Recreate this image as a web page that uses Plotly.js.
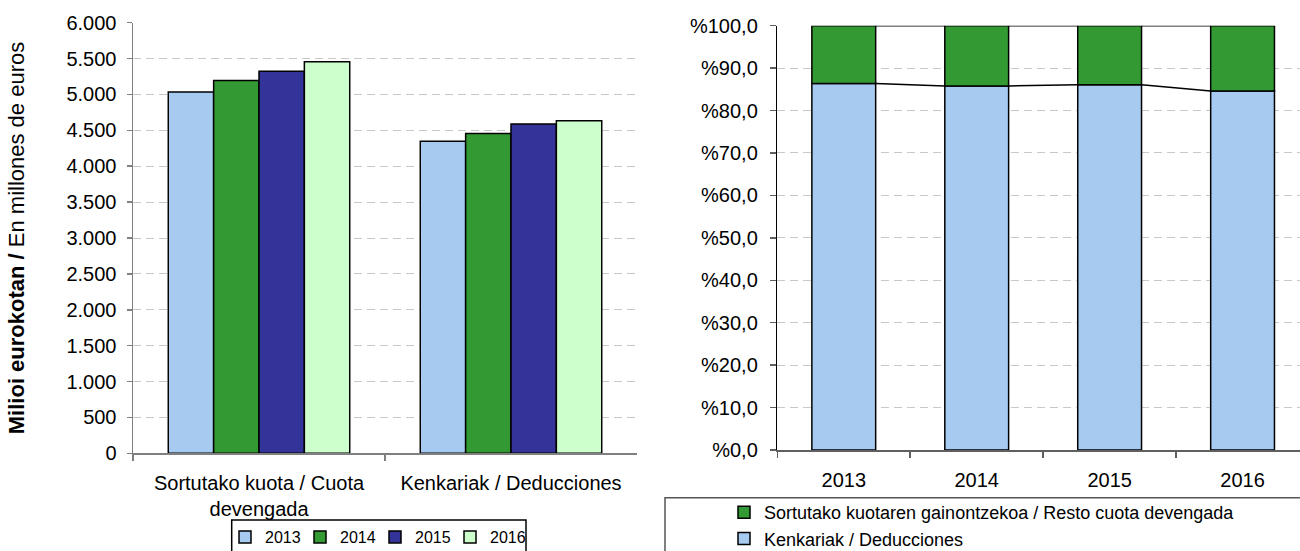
<!DOCTYPE html>
<html><head><meta charset="utf-8">
<script src="https://cdn.plot.ly/plotly-3.0.1.min.js"></script>
<style>html,body{margin:0;padding:0;background:#fff;overflow:hidden}#chart{width:1300px;height:580px}</style>
</head><body><div id="chart"></div>
<script>
// ---- data ----
const concepts = ["Sortutako kuota / Cuota<br>devengada", "Kenkariak / Deducciones"];
const years = ["2013", "2014", "2015", "2016"];
const values2013 = [5036, 4348];
const values2014 = [5193, 4455];
const values2015 = [5322, 4587];
const values2016 = [5456, 4634];
const shareDeducciones = [86.4, 85.8, 86.1, 84.6];
const shareResto = [13.6, 14.2, 13.9, 15.4];
const nameResto = "Sortutako kuotaren gainontzekoa / Resto cuota devengada";
const nameDeducciones = "Kenkariak / Deducciones";
const yTitle = "<b>Milioi eurokotan / </b>En millones de euros";

// ---- styling ----
// The figure is a little taller than the 551px window so the legend boxes run off the bottom edge as in the original.
const W = 1300, H = 580;
const px = v => v / W, py = v => 1 - v / H;
const FONT = "Liberation Sans, Arial, sans-serif";
const yearColors = ["#A6CAF0", "#339933", "#333399", "#CCFFCC"];
const colResto = "#339933", colDed = "#A6CAF0";
const outline = {color: "#000", width: 1.5};

const yearSeries = [values2013, values2014, values2015, values2016];
const barW = 0.18, groupStart = -0.36;
const traces = [];
yearSeries.forEach((vals, k) => {
  traces.push({
    type: "bar", x: concepts, y: vals, name: years[k],
    xaxis: "x", yaxis: "y", legend: "legend",
    width: barW, offset: groupStart + k * barW,
    marker: {color: yearColors[k], line: outline},
    hoverinfo: "x+y+name"
  });
});

const bw2 = 0.48;
traces.push({
  type: "bar", x: years, y: shareDeducciones, name: nameDeducciones,
  xaxis: "x2", yaxis: "y2", legend: "legend2", width: bw2,
  marker: {color: colDed, line: outline}
});
traces.push({
  type: "bar", x: years, y: shareResto, base: shareDeducciones, name: nameResto,
  xaxis: "x2", yaxis: "y2", legend: "legend2", width: bw2,
  marker: {color: colResto, line: outline}
});

// series lines connecting bar edges
const tops = shareDeducciones.map((v, i) => v + shareResto[i]);
function seriesLine(levels) {
  const xs = [], ys = [];
  for (let i = 0; i < levels.length - 1; i++) {
    xs.push(i + bw2 / 2, i + 1 - bw2 / 2, null);
    ys.push(levels[i], levels[i + 1], null);
  }
  return {type: "scatter", mode: "lines", x: xs, y: ys, xaxis: "x3", yaxis: "y2",
          line: {color: "#000", width: 1.5}, showlegend: false, hoverinfo: "skip"};
}
traces.push(seriesLine(shareDeducciones));
traces.push(seriesLine(tops));

const grid = {gridcolor: "#C8C8C8", griddash: "8px,5px", gridwidth: 1};
const rightEnd = 3.432;

const layout = {
  width: W, height: H,
  margin: {l: 0, r: 0, t: 0, b: 0},
  paper_bgcolor: "#fff", plot_bgcolor: "#fff",
  font: {family: FONT, size: 20, color: "#000"},
  separators: ",.",
  barmode: "overlay",
  showlegend: true,
  xaxis: {
    domain: [px(133), px(637)], anchor: "y", type: "category",
    range: [-0.5, 1.5], tickson: "boundaries", ticks: "outside", ticklen: 6,
    tickcolor: "#808080", tickwidth: 1.5, showline: true, linecolor: "#808080", linewidth: 1.5,
    showgrid: false, ticklabelstandoff: 11, tickfont: {size: 20}, fixedrange: true
  },
  yaxis: Object.assign({
    domain: [py(453.3), py(22.7)], anchor: "x", range: [0, 6000], dtick: 500,
    tickformat: ",d", ticks: "outside", ticklen: 5, tickcolor: "#808080", tickwidth: 1.5,
    showline: true, linecolor: "#808080", linewidth: 1.5, zeroline: false,
    ticklabelstandoff: 6, tickfont: {size: 20},
    title: {text: yTitle, font: {size: 22}, standoff: 35}, fixedrange: true
  }, grid),
  xaxis2: {
    domain: [px(777.3), 1], anchor: "y2", type: "category",
    range: [-0.5, rightEnd], tickson: "boundaries", ticks: "outside", ticklen: 6,
    tickcolor: "#606060", tickwidth: 1.5, showline: true, linecolor: "#606060", linewidth: 1.5,
    showgrid: false, ticklabelstandoff: 11, tickfont: {size: 20}, fixedrange: true
  },
  xaxis3: {overlaying: "x2", anchor: "y2", range: [-0.5, rightEnd], visible: false, fixedrange: true},
  yaxis2: Object.assign({
    domain: [py(450), py(25.7)], anchor: "x2", range: [0, 100], dtick: 10,
    tickformat: ".1f", tickprefix: "%", ticks: "outside", ticklen: 6, tickcolor: "#606060",
    tickwidth: 1.5, showline: true, linecolor: "#000", linewidth: 1.5, zeroline: false,
    ticklabelstandoff: 8, tickfont: {size: 20}, fixedrange: true
  }, grid),
  legend: {
    x: px(225), y: py(520), xanchor: "left", yanchor: "top", orientation: "h",
    borderwidth: 0, bgcolor: "rgba(0,0,0,0)", font: {size: 16},
    entrywidth: 30, traceorder: "normal"
  },
  legend2: {
    x: px(724), y: py(494), xanchor: "left", yanchor: "top", orientation: "v",
    borderwidth: 0, bgcolor: "rgba(0,0,0,0)", font: {size: 18}, traceorder: "reversed"
  },
  shapes: [
    {type: "rect", xref: "paper", yref: "paper",
     x0: px(231.7), x1: px(526), y0: py(520), y1: py(575),
     line: {color: "#000", width: 1.5}, fillcolor: "rgba(0,0,0,0)", layer: "below"},
    {type: "rect", xref: "paper", yref: "paper",
     x0: px(665), x1: 1.02, y0: py(497.7), y1: py(575),
     line: {color: "#555", width: 1.5}, fillcolor: "rgba(0,0,0,0)", layer: "below"}
  ]
};

Plotly.newPlot("chart", traces, layout, {displayModeBar: false, staticPlot: true});
</script>
</body></html>
